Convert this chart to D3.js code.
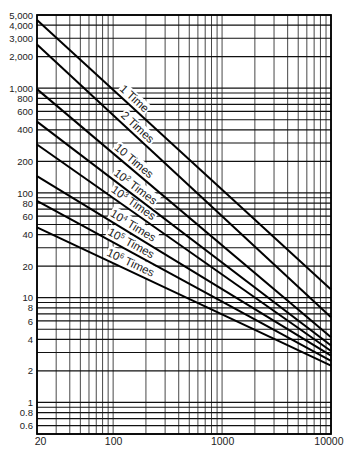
<!DOCTYPE html>
<html>
<head>
<meta charset="utf-8">
<script src="https://cdn.jsdelivr.net/npm/d3@7"></script>
<style>
  body { margin: 0; background: #fff; }
  text { font-family: "Liberation Sans", Arial, sans-serif; fill: #222; }
</style>
</head>
<body>
<div id="chart"></div>
<script>
// Data
const seriesBase = ['1', '2', '10', '10', '10', '10', '10', '10']
const seriesPower = ['', '', '', '2', '3', '4', '5', '6']
const seriesUnit = ['Time', 'Times', 'Times', 'Times', 'Times', 'Times', 'Times', 'Times']
const xValues = [20, 10000]
const startValues = [4480, 2620, 980, 480, 290, 145, 84, 47]
const endValues = [12, 6.5, 4.2, 3.5, 3.1, 2.8, 2.5, 2.25]

const yTickValues = [5000, 4000, 3000, 2000, 1000, 800, 600, 400, 200, 100, 80, 60, 40, 20, 10, 8, 6, 4, 2, 1, 0.8, 0.6]
const yTickLabels = ['5,000', '4,000', '3,000', '2,000', '1,000', '800', '600', '400', '200', '100', '80', '60', '40', '20', '10', '8', '6', '4', '2', '1', '0.8', '0.6']
const xTickValues = [20, 100, 1000, 10000]
const xTickLabels = ['20', '100', '1000', '10000']

// where along each line its label sits (x value)
const labelAt = [140, 150, 140, 145, 140, 140, 135, 135]

// Dimensions
let dimensions = {
  width: 344,
  height: 450,
  margin: { top: 15, bottom: 16, left: 37, right: 13 }
}
dimensions.ctrWidth = dimensions.width - dimensions.margin.left - dimensions.margin.right
dimensions.ctrHeight = dimensions.height - dimensions.margin.top - dimensions.margin.bottom

const svg = d3.select('#chart')
  .append('svg')
  .attr('width', dimensions.width)
  .attr('height', dimensions.height)

const ctr = svg.append('g')
  .attr('transform', `translate(${dimensions.margin.left}, ${dimensions.margin.top})`)

// scales
const xScale = d3.scaleLog()
  .domain([20, 10000])
  .range([0, dimensions.ctrWidth])

const yScale = d3.scaleLog()
  .domain([0.5, 5000])
  .range([dimensions.ctrHeight, 0])

// grid values
const xGrid = []
for (let d = 10; d <= 10000; d *= 10) {
  for (let m = 1; m <= 9; m++) {
    const v = d * m
    if (v >= 20 && v <= 10000) xGrid.push(v)
  }
}
const yGrid = []
for (let d = 0.1; d <= 1000; d *= 10) {
  for (let m = 1; m <= 9; m++) {
    const v = +(d * m).toPrecision(3)
    if (v >= 0.5 && v <= 5000) yGrid.push(v)
  }
}

ctr.append('g')
  .selectAll('line')
  .data(xGrid)
  .join('line')
  .attr('x1', d => xScale(d))
  .attr('x2', d => xScale(d))
  .attr('y1', 0)
  .attr('y2', dimensions.ctrHeight)
  .attr('stroke', '#333')
  .attr('stroke-width', 0.9)

ctr.append('g')
  .selectAll('line')
  .data(yGrid)
  .join('line')
  .attr('x1', 0)
  .attr('x2', dimensions.ctrWidth)
  .attr('y1', d => yScale(d))
  .attr('y2', d => yScale(d))
  .attr('stroke', '#111')
  .attr('stroke-width', 1.2)

// frame
ctr.append('rect')
  .attr('width', dimensions.ctrWidth)
  .attr('height', dimensions.ctrHeight)
  .attr('fill', 'none')
  .attr('stroke', '#000')
  .attr('stroke-width', 1.8)

// axes
const yAxis = d3.axisLeft(yScale)
  .tickValues(yTickValues)
  .tickFormat((d, i) => yTickLabels[i])
  .tickSize(0)
  .tickPadding(4)

svg.append('g')
  .attr('transform', `translate(${dimensions.margin.left}, ${dimensions.margin.top})`)
  .call(yAxis)
  .call(g => g.select('.domain').remove())
  .selectAll('text')
  .attr('font-size', 9.5)
  .attr('font-family', '"Liberation Sans", Arial, sans-serif')
  .attr('fill', '#333')

const xAxis = d3.axisBottom(xScale)
  .tickValues(xTickValues)
  .tickFormat((d, i) => xTickLabels[i])
  .tickSize(0)
  .tickPadding(4)

svg.append('g')
  .attr('transform', `translate(${dimensions.margin.left}, ${dimensions.margin.top + dimensions.ctrHeight})`)
  .call(xAxis)
  .call(g => g.select('.domain').remove())
  .selectAll('text')
  .attr('font-size', 10.5)
  .attr('font-family', '"Liberation Sans", Arial, sans-serif')
  .attr('fill', '#333')
  .attr('text-anchor', (d, i) => i === xTickValues.length - 1 ? 'end' : 'middle')
  .attr('dx', (d, i) => i === xTickValues.length - 1 ? 12 : i === 0 ? 3 : 0)

// lines
const lineData = seriesBase.map((base, i) => ({
  base,
  power: seriesPower[i],
  unit: seriesUnit[i],
  points: [[xValues[0], startValues[i]], [xValues[1], endValues[i]]],
  labelX: labelAt[i]
}))

const line = d3.line()
  .x(d => xScale(d[0]))
  .y(d => yScale(d[1]))

// labels on white boxes that clear the grid, lines drawn over
const labels = ctr.append('g')
lineData.forEach(d => {
  const [p0, p1] = d.points
  const lx0 = Math.log10(p0[0]), lx1 = Math.log10(p1[0])
  const ly0 = Math.log10(p0[1]), ly1 = Math.log10(p1[1])
  const t = (Math.log10(d.labelX) - lx0) / (lx1 - lx0)
  const yv = Math.pow(10, ly0 + t * (ly1 - ly0))
  const px = xScale(d.labelX)
  const py = yScale(yv)
  const ang = Math.atan2(yScale(p1[1]) - yScale(p0[1]), xScale(p1[0]) - xScale(p0[0])) * 180 / Math.PI
  const g = labels.append('g')
    .attr('transform', `translate(${px},${py}) rotate(${ang}) translate(0,-4)`)
  const box = g.append('rect').attr('fill', '#fff')
  const txt = g.append('text')
    .attr('text-anchor', 'middle')
    .attr('font-size', 11.5)
    .attr('fill', '#111')
  txt.append('tspan').text(d.base)
  if (d.power) {
    txt.append('tspan')
      .attr('font-size', 7.5)
      .attr('dy', -4)
      .text(d.power)
    txt.append('tspan').attr('dy', 4).text(' ' + d.unit)
  } else {
    txt.append('tspan').text(' ' + d.unit)
  }
  const bb = txt.node().getBBox()
  box.attr('x', bb.x - 1)
    .attr('y', bb.y)
    .attr('width', bb.width + 2)
    .attr('height', bb.height + 2)
})

ctr.append('g')
  .selectAll('path')
  .data(lineData)
  .join('path')
  .attr('d', d => line(d.points))
  .attr('fill', 'none')
  .attr('stroke', '#000')
  .attr('stroke-width', 2)
</script>
</body>
</html>
